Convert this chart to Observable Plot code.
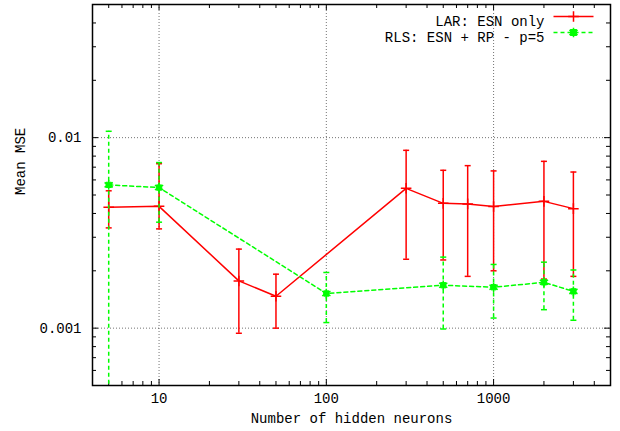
<!DOCTYPE html>
<html><head><meta charset="utf-8">
<script src="https://cdn.jsdelivr.net/npm/d3@7"></script>
<script src="https://cdn.jsdelivr.net/npm/@observablehq/plot@0.6"></script>
<style>
body{margin:0;background:#fff;}
#chart{position:relative;width:620px;height:431px;}
</style></head><body><div id="chart"></div>
<script>
// ---- data ----
const larX = [5, 10, 30, 50, 300, 500, 700, 1000, 2000, 3000];
const larMean = [0.00431, 0.00436, 0.00177, 0.00147, 0.00542, 0.00452, 0.00449, 0.00435, 0.00463, 0.00424];
const larLow = [0.00336, 0.00332, 0.00094, 0.00100, 0.00230, 0.00228, 0.00187, 0.00200, 0.00181, 0.00187];
const larHigh = [0.00526, 0.0073, 0.00260, 0.00192, 0.00858, 0.00674, 0.00713, 0.00669, 0.00751, 0.00660];

const rlsX = [5, 10, 100, 500, 1000, 2000, 3000];
const rlsMean = [0.00565, 0.00547, 0.00152, 0.00168, 0.00164, 0.00174, 0.00156];
const rlsLow = [0.0002, 0.0036, 0.00107, 0.00099, 0.00113, 0.00125, 0.00110];
const rlsHigh = [0.0108, 0.0074, 0.00196, 0.00236, 0.00216, 0.00222, 0.00202];

const seriesNames = ["LAR: ESN only", "RLS: ESN + RP - p=5"];
const xMajor = [10, 100, 1000];
const xTickLabels = ["10", "100", "1000"];
const xMinor = [5, 6, 7, 8, 9, 20, 30, 40, 50, 60, 70, 80, 90, 200, 300, 400, 500, 600, 700, 800, 900, 2000, 3000, 4000];
const yMajor = [0.001, 0.01];
const yTickLabels = ["0.001", "0.01"];
const yMinor = [0.0006, 0.0007, 0.0008, 0.0009, 0.002, 0.003, 0.004, 0.005, 0.006, 0.007, 0.008, 0.009, 0.02, 0.03, 0.04];
const xTitle = "Number of hidden neurons";
const yTitle = "Mean MSE";

// ---- tables ----
const lar = larX.map((x, i) => ({x, mean: larMean[i], low: larLow[i], high: larHigh[i]}));
const rls = rlsX.map((x, i) => ({x, mean: rlsMean[i], low: rlsLow[i], high: rlsHigh[i]}));

const W = 620, H = 431, ML = 92, MR = 10, MT = 4, MB = 46;
const PW = W - ML - MR, PH = H - MT - MB;
const RED = "#ff0000", GREEN = "#00ff00";
const FONT = "Liberation Mono, DejaVu Sans Mono, monospace";

const capSymbol = {draw(ctx, size) { const r = Math.sqrt(size / Math.PI); ctx.moveTo(-r, 0); ctx.lineTo(r, 0); }};
const lineSymbol = capSymbol;

const majLen = 6, minLen = 4;

const chart = Plot.plot({
  width: W, height: H,
  marginLeft: ML, marginRight: MR, marginTop: MT, marginBottom: MB,
  style: {fontFamily: FONT, fontSize: "14px", background: "#fff", color: "#000"},
  x: {type: "log", domain: [4, 5000]},
  y: {type: "log", domain: [0.0005, 0.05]},
  marks: [
    // grid
    Plot.gridX(xMajor, {stroke: "#000", strokeOpacity: 0.55, strokeDasharray: "1,2"}),
    Plot.gridY(yMajor, {stroke: "#000", strokeOpacity: 0.55, strokeDasharray: "1,2"}),
    // tick labels
    Plot.axisX(xMajor, {tickSize: 0, tickPadding: 8, tickFormat: d => xTickLabels[xMajor.indexOf(d)], label: null}),
    Plot.axisY(yMajor, {tickSize: 0, tickPadding: 11, tickFormat: d => yTickLabels[yMajor.indexOf(d)], label: null}),
    // inward ticks: left/right
    Plot.tickY(yMajor, {y: d => d, insetRight: PW - majLen, stroke: "#000"}),
    Plot.tickY(yMajor, {y: d => d, insetLeft: PW - majLen, stroke: "#000"}),
    Plot.tickY(yMinor, {y: d => d, insetRight: PW - minLen, stroke: "#000"}),
    Plot.tickY(yMinor, {y: d => d, insetLeft: PW - minLen, stroke: "#000"}),
    // inward ticks: bottom/top
    Plot.tickX(xMajor, {x: d => d, insetTop: PH - majLen, stroke: "#000"}),
    Plot.tickX(xMajor, {x: d => d, insetBottom: PH - majLen, stroke: "#000"}),
    Plot.tickX(xMinor, {x: d => d, insetTop: PH - minLen, stroke: "#000"}),
    Plot.tickX(xMinor, {x: d => d, insetBottom: PH - minLen, stroke: "#000"}),
    // LAR series
    Plot.ruleX(lar, {x: "x", y1: "low", y2: "high", stroke: RED, strokeWidth: 1.5, clip: true}),
    Plot.dot(lar, {x: "x", y: "low", symbol: capSymbol, r: 3, stroke: RED, fill: "none", strokeWidth: 1.5}),
    Plot.dot(lar, {x: "x", y: "high", symbol: capSymbol, r: 3, stroke: RED, fill: "none", strokeWidth: 1.5}),
    Plot.line(lar, {x: "x", y: "mean", stroke: RED, strokeWidth: 1.5}),
    Plot.dot(lar, {x: "x", y: "mean", symbol: "plus", r: 3.5, stroke: RED, strokeWidth: 1.5}),
    // RLS series
    Plot.ruleX(rls, {x: "x", y1: "low", y2: "high", stroke: GREEN, strokeWidth: 1.5, strokeDasharray: "4,3", clip: true}),
    Plot.dot(rls.filter(d => d.low >= 0.0005), {x: "x", y: "low", symbol: capSymbol, r: 3, stroke: GREEN, fill: "none", strokeWidth: 1.5}),
    Plot.dot(rls, {x: "x", y: "high", symbol: capSymbol, r: 3, stroke: GREEN, fill: "none", strokeWidth: 1.5}),
    Plot.line(rls, {x: "x", y: "mean", stroke: GREEN, strokeWidth: 1.5, strokeDasharray: "4,3"}),
    Plot.dot(rls, {x: "x", y: "mean", symbol: "square", r: 3, fill: GREEN, stroke: GREEN, strokeWidth: 1}),
    Plot.dot(rls, {x: "x", y: "mean", symbol: "asterisk", r: 4.5, stroke: GREEN, strokeWidth: 1.5}),
    // frame
    Plot.frame({stroke: "#000", strokeWidth: 1.5}),
    // legend
    Plot.text([seriesNames[0]], {frameAnchor: "top-right", dx: -66, dy: 12, textAnchor: "end", fill: "#000"}),
    Plot.text([seriesNames[1]], {frameAnchor: "top-right", dx: -66, dy: 28, textAnchor: "end", fill: "#000"}),
    Plot.dot([0], {frameAnchor: "top-right", dx: -37, dy: 12, symbol: lineSymbol, r: 20, stroke: RED, fill: "none", strokeWidth: 1.5}),
    Plot.dot([0], {frameAnchor: "top-right", dx: -37, dy: 12, symbol: "plus", r: 3.5, stroke: RED, strokeWidth: 1.5}),
    Plot.dot([0], {frameAnchor: "top-right", dx: -37, dy: 28, symbol: lineSymbol, r: 20, stroke: GREEN, fill: "none", strokeWidth: 1.5, strokeDasharray: "4,3"}),
    Plot.dot([0], {frameAnchor: "top-right", dx: -37, dy: 28, symbol: "square", r: 3, fill: GREEN, stroke: GREEN}),
    Plot.dot([0], {frameAnchor: "top-right", dx: -37, dy: 28, symbol: "asterisk", r: 4.5, stroke: GREEN, strokeWidth: 1.5}),
    // axis titles
    Plot.text([yTitle], {frameAnchor: "left", dx: -72, rotate: -90, fill: "#000"}),
    Plot.text([xTitle], {frameAnchor: "bottom", dy: 37, fill: "#000"})
  ]
});
document.getElementById("chart").appendChild(chart);
</script>
</body></html>
